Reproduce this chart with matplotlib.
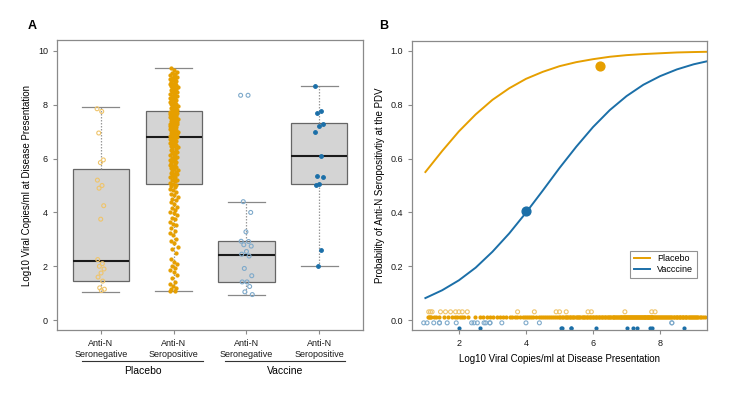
import numpy as np
from matplotlib import pyplot as plt

# colours
ORANGE = '#E69F00'
LIGHT_ORANGE = '#EFC46A'
BLUE = '#1B6FA8'
LIGHT_BLUE = '#7FAACB'

# panel A / B data (log10 viral copies/ml)
placebo_neg = [7.85, 7.75, 6.95, 5.95, 5.85, 5.20, 5.00, 4.90, 4.25, 3.75,
               2.25, 2.10, 2.00, 1.90, 1.75, 1.60, 1.45, 1.20, 1.15, 1.10]

placebo_pos = [
    1.07, 1.10, 1.14, 1.18, 1.25, 1.33, 1.42, 1.55, 1.68, 1.80,
    1.88, 1.95, 2.02, 2.08, 2.15, 2.26, 2.48, 2.63, 2.71, 2.85,
    2.93, 3.02, 3.15, 3.22, 3.30, 3.41, 3.52, 3.58, 3.66, 3.74,
    3.81, 3.90, 3.97, 4.03, 4.10, 4.16, 4.22, 4.31, 4.38, 4.45,
    4.50, 4.56, 4.63, 4.70, 4.76, 4.82, 4.88, 4.93, 4.98, 5.02,
    5.07, 5.10, 5.15, 5.19, 5.21, 5.26, 5.30, 5.32, 5.37, 5.41,
    5.43, 5.48, 5.52, 5.54, 5.59, 5.61, 5.66, 5.70, 5.72, 5.77,
    5.81, 5.83, 5.88, 5.90, 5.95, 5.99, 6.01, 6.06, 6.08, 6.13,
    6.17, 6.19, 6.24, 6.26, 6.31, 6.35, 6.36, 6.42, 6.45, 6.47,
    6.52, 6.54, 6.59, 6.60, 6.63, 6.66, 6.69, 6.72, 6.75, 6.78,
    6.81, 6.82, 6.84, 6.86, 6.88, 6.91, 6.92, 6.94, 6.97, 6.99,
    7.00, 7.03, 7.05, 7.06, 7.09, 7.11, 7.12, 7.15, 7.17, 7.18,
    7.21, 7.23, 7.24, 7.27, 7.29, 7.30, 7.33, 7.35, 7.36, 7.39,
    7.41, 7.42, 7.45, 7.47, 7.48, 7.51, 7.53, 7.55, 7.56, 7.58,
    7.60, 7.62, 7.63, 7.65, 7.67, 7.68, 7.70, 7.72, 7.73, 7.75,
    7.77, 7.80, 7.83, 7.86, 7.88, 7.92, 7.95, 7.97, 8.01, 8.04,
    8.06, 8.10, 8.13, 8.15, 8.19, 8.22, 8.24, 8.28, 8.31, 8.33,
    8.37, 8.40, 8.42, 8.46, 8.49, 8.51, 8.55, 8.58, 8.60, 8.64,
    8.67, 8.69, 8.73, 8.76, 8.78, 8.82, 8.85, 8.88, 8.91, 8.94,
    8.97, 9.00, 9.03, 9.07, 9.10, 9.14, 9.18, 9.23, 9.29, 9.35,
]

vaccine_neg = [8.35, 8.35, 4.40, 4.00, 3.28, 2.93, 2.92, 2.80, 2.75, 2.55,
               2.45, 2.38, 1.92, 1.65, 1.42, 1.42, 1.25, 1.05, 0.95]

vaccine_pos = [8.70, 7.75, 7.70, 7.30, 7.20, 7.00, 6.10, 5.35, 5.33, 5.07,
               5.03, 2.62, 2.00]

# box statistics: (q1, median, q3, low whisker, high whisker)
box_stats = [
    (1.45, 2.20, 5.60, 1.03, 7.90),
    (5.05, 6.80, 7.75, 1.07, 9.35),
    (1.42, 2.42, 2.93, 0.95, 4.40),
    (5.07, 6.08, 7.32, 2.00, 8.70),
]
box_labels = ['Anti-N\nSeronegative', 'Anti-N\nSeropositive',
              'Anti-N\nSeronegative', 'Anti-N\nSeropositive']
groups = ['Placebo', 'Vaccine']

# panel B fitted curves
curve_x = [1.0, 1.5, 2.0, 2.5, 3.0, 3.5, 4.0, 4.5, 5.0, 5.5,
           6.0, 6.5, 7.0, 7.5, 8.0, 8.5, 9.0, 9.5]
placebo_curve = [0.550, 0.628, 0.701, 0.764, 0.818, 0.861, 0.896, 0.922, 0.943,
                 0.958, 0.969, 0.978, 0.984, 0.988, 0.991, 0.994, 0.9955, 0.9967]
vaccine_curve = [0.082, 0.111, 0.148, 0.195, 0.254, 0.322, 0.399, 0.481, 0.565,
                 0.644, 0.717, 0.780, 0.832, 0.874, 0.906, 0.931, 0.950, 0.964]
placebo_mean = (6.2, 0.943)
vaccine_mean = (4.0, 0.405)


def jitter(n, width):
    # deterministic spread of positions
    k = (np.arange(n) * 37) % 23
    return (k / 22.0 - 0.5) * width


def style_axes(ax):
    for s in ax.spines.values():
        s.set_color('#8a8a8a')
        s.set_linewidth(0.9)
    ax.tick_params(axis='both', colors='#8a8a8a', labelcolor='#1a1a1a',
                   labelsize=6.5, length=3, width=0.8)


fig = plt.figure(figsize=(7.47, 3.93), dpi=100)
plt.rcParams['font.family'] = ['Liberation Sans', 'DejaVu Sans']

# ---------- panel A ----------
axA = fig.add_axes([0.0763, 0.160, 0.4097, 0.738])
stats = []
for q1, med, q3, lo, hi in box_stats:
    stats.append(dict(q1=q1, med=med, q3=q3, whislo=lo, whishi=hi, fliers=[]))
axA.bxp(stats, positions=[1, 2, 3, 4], widths=0.77, patch_artist=True,
        showfliers=False,
        boxprops=dict(facecolor='#d4d4d4', edgecolor='#666666', linewidth=0.9),
        medianprops=dict(color='#1a1a1a', linewidth=1.5),
        whiskerprops=dict(color='#999999', linestyle=(0, (1.2, 1.2)), linewidth=0.9),
        capprops=dict(color='#888888', linewidth=0.9), capwidths=0.5)

sets = [(placebo_neg, 'none', LIGHT_ORANGE, 0.10, 8),
        (placebo_pos, ORANGE, ORANGE, 0.11, 5),
        (vaccine_neg, 'none', LIGHT_BLUE, 0.16, 8),
        (vaccine_pos, BLUE, BLUE, 0.12, 7)]
for i, (vals, fc, ec, w, sz) in enumerate(sets):
    xs = i + 1 + jitter(len(vals), w)
    axA.scatter(xs, vals, s=sz, facecolors=fc, edgecolors=ec, linewidths=0.8, zorder=3)

axA.set_xlim(0.4, 4.6)
axA.set_ylim(-0.37, 10.4)
axA.set_yticks([0, 2, 4, 6, 8, 10])
axA.set_xticks([1, 2, 3, 4])
axA.set_xticklabels(box_labels, fontsize=6.5, linespacing=1.25)
axA.set_ylabel('Log10 Viral Copies/ml at Disease Presentation', fontsize=7)
style_axes(axA)

trA = axA.get_xaxis_transform()
for (x0, x1), name in zip([(0.75, 2.4), (2.7, 4.35)], groups):
    axA.plot([x0, x1], [-0.108, -0.108], color='#333333', lw=0.8,
             transform=trA, clip_on=False)
    axA.text((x0 + x1) / 2, -0.123, name, transform=trA, ha='center', va='top',
             fontsize=7.5)

fig.text(0.043, 0.934, 'A', fontsize=9, fontweight='bold', ha='center', va='center')

# ---------- panel B ----------
axB = fig.add_axes([0.5515, 0.160, 0.395, 0.736])
axB.plot(curve_x, placebo_curve, color=ORANGE, lw=1.4, label='Placebo')
axB.plot(curve_x, vaccine_curve, color=BLUE, lw=1.4, label='Vacccine')
axB.scatter(*placebo_mean, s=40, color=ORANGE, zorder=4)
axB.scatter(*vaccine_mean, s=40, color=BLUE, zorder=4)

axB.scatter(placebo_neg, [0.031] * len(placebo_neg), s=8, facecolors='none',
            edgecolors=LIGHT_ORANGE, linewidths=0.8)
axB.scatter(placebo_pos, [0.012] * len(placebo_pos), s=9, color=ORANGE, linewidths=0)
axB.scatter(vaccine_neg, [-0.010] * len(vaccine_neg), s=8, facecolors='none',
            edgecolors=LIGHT_BLUE, linewidths=0.8)
axB.scatter(vaccine_pos, [-0.028] * len(vaccine_pos), s=9, color=BLUE, linewidths=0)

axB.set_xlim(0.6, 9.4)
axB.set_ylim(-0.037, 1.037)
axB.set_xticks([2, 4, 6, 8])
axB.set_yticks([0, 0.2, 0.4, 0.6, 0.8, 1.0])
axB.set_yticklabels(['0.0', '0.2', '0.4', '0.6', '0.8', '1.0'])
axB.set_xlabel('Log10 Viral Copies/ml at Disease Presentation', fontsize=7)
axB.set_ylabel('Probability of Anti-N Seropositivtiy at the PDV', fontsize=7)
style_axes(axB)
leg = axB.legend(loc='lower right', bbox_to_anchor=(0.98, 0.165), fontsize=6.5,
                 frameon=True, fancybox=False, handlelength=1.8, borderpad=0.4,
                 labelspacing=0.2)
leg.get_frame().set_edgecolor('#777777')
leg.get_frame().set_linewidth(0.8)

fig.text(0.513, 0.934, 'B', fontsize=9, fontweight='bold', ha='center', va='center')

fig.savefig('out.png', dpi=100)
